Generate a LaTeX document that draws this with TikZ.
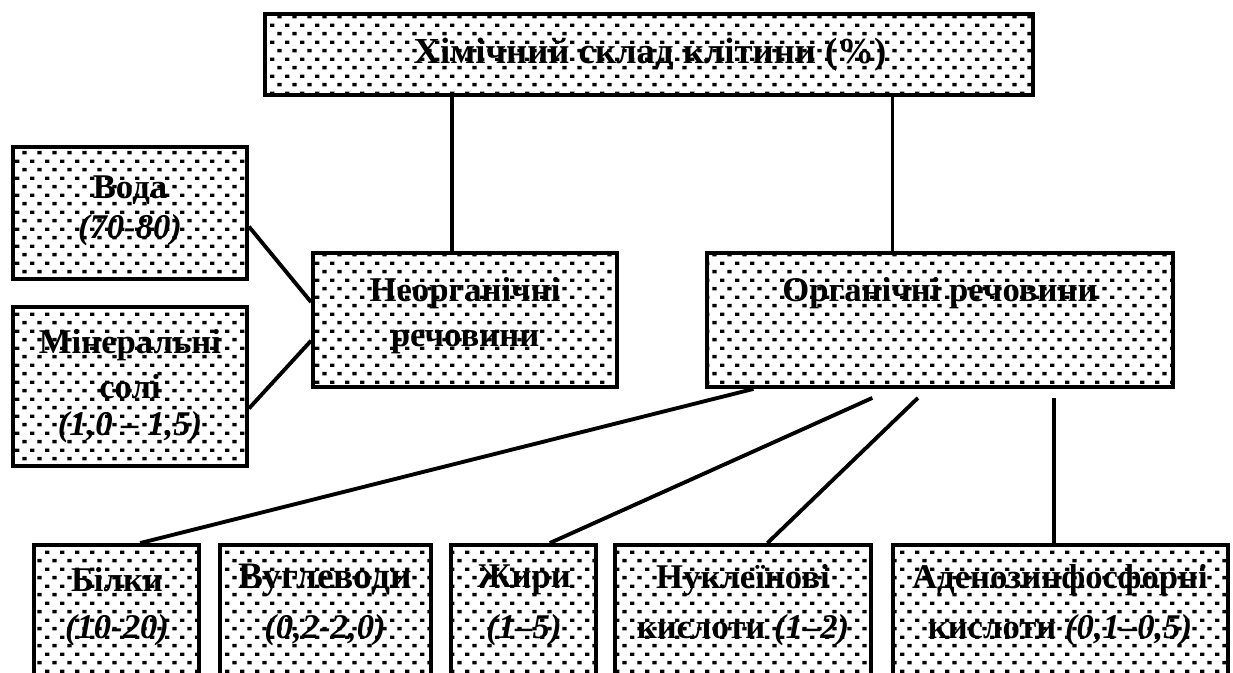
\documentclass[tikz,border=0pt]{standalone}
\usepackage{fontspec}
\setmainfont{Liberation Serif}
\usetikzlibrary{patterns,fit,calc}

% staggered grid of small black dashes used as box fill
\pgfdeclarepatternformonly{cellfill}{\pgfqpoint{-1pt}{-1pt}}{\pgfqpoint{12pt}{14pt}}{\pgfqpoint{11.25pt}{12.75pt}}{%
  \pgfpathrectangle{\pgfqpoint{0pt}{0pt}}{\pgfqpoint{3.2pt}{2.6pt}}%
  \pgfpathrectangle{\pgfqpoint{5.6pt}{6.4pt}}{\pgfqpoint{3.2pt}{2.6pt}}%
  \pgfusepath{fill}}

\begin{document}
\begin{tikzpicture}[x=0.75pt,y=-0.75pt,
  cell/.style={draw=black, line width=2.9pt, pattern=cellfill, inner sep=0pt},
  link/.style={line width=2.9pt},
  lbl/.style={font=\fontsize{26}{30}\selectfont\bfseries, inner sep=0pt},
  num/.style={font=\fontsize{26}{30}\selectfont\bfseries\itshape, inner sep=0pt}]
\clip (0,0) rectangle (1233,673);
\fill[white] (0,0) rectangle (1233,673);

% boxes
\node[cell, line width=3.4pt, fit={(265,14) (1033,95)}] (top) {};
\node[cell, fit={(13,147) (247,279)}] (water) {};
\node[cell, fit={(13,307) (247,466)}] (salt) {};
\node[cell, fit={(313,253) (617,387)}] (inorg) {};
\node[cell, fit={(707,253) (1173,387)}] (org) {};
\node[cell, fit={(34,545) (199,710)}] (prot) {};
\node[cell, fit={(220,545) (431,710)}] (carb) {};
\node[cell, fit={(451,545) (596,710)}] (fat) {};
\node[cell, fit={(615,545) (871,710)}] (nucl) {};
\node[cell, fit={(893,545) (1228,710)}] (atp) {};

% labels
\node[lbl, font=\fontsize{27.5}{30}\selectfont\bfseries] (t-top) at (650,55) {Хімічний склад клітини (\%)};
\node[lbl] (t-water) at (130,190) {Вода};
\node[num] (n-water) at (130,230) {(70-80)};
\node[lbl] (t-salt1) at (130,345) {Мінеральні};
\node[lbl] (t-salt2) at (130,387) {солі};
\node[num] (n-salt) at (130,427) {(1,0 – 1,5)};
\node[lbl] (t-inorg1) at (465,293) {Неорганічні};
\node[lbl] (t-inorg2) at (465,342) {речовини};
\node[lbl] (t-org) at (940,293) {Органічні речовини};
\node[lbl] (t-prot) at (117,580) {Білки};
\node[num] (n-prot) at (117,630) {(10-20)};
\node[lbl, font=\fontsize{28}{30}\selectfont\bfseries] (t-carb) at (325,580) {Вуглеводи};
\node[num] (n-carb) at (325,630) {(0,2-2,0)};
\node[lbl] (t-fat) at (524,580) {Жири};
\node[num] (n-fat) at (524,630) {(1–5)};
\node[lbl] (t-nucl) at (743,580) {Нуклеїнові};
\node[lbl] (t-nucl2) at (743,630) {кислоти \textit{(1–2)}};
\node[lbl] (t-atp) at (1060,580) {Аденозинфосфорні};
\node[lbl] (t-atp2) at (1060,630) {кислоти \textit{(0,1–0,5)}};

% connectors
\coordinate (a1) at ($(inorg.north west)!0.457!(inorg.north east)$);
\draw[link] (a1) -- (a1 |- top.south);
\coordinate (a2) at ($(org.north west)!0.399!(org.north east)$);
\draw[link] (a2) -- (a2 |- top.south);
\draw[link] ($(water.north east)!0.6!(water.south east)$) -- ($(inorg.north west)!0.37!(inorg.south west)$);
\draw[link] ($(salt.north east)!0.635!(salt.south east)$) -- ($(inorg.north west)!0.65!(inorg.south west)$);
\draw[link] ($(org.south west)!0.103!(org.south east)$) -- ($(prot.north west)!0.64!(prot.north east)$);
\draw[link] ([yshift=-6.75pt]$(org.south west)!0.356!(org.south east)$) -- ($(fat.north west)!0.676!(fat.north east)$);
\draw[link] ([yshift=-6.75pt]$(org.south west)!0.453!(org.south east)$) -- ($(nucl.north west)!0.594!(nucl.north east)$);
\coordinate (a3) at ($(atp.north west)!0.48!(atp.north east)$);
\draw[link] (a3) -- ([yshift=-6.75pt]a3 |- org.south);
\end{tikzpicture}
\end{document}
